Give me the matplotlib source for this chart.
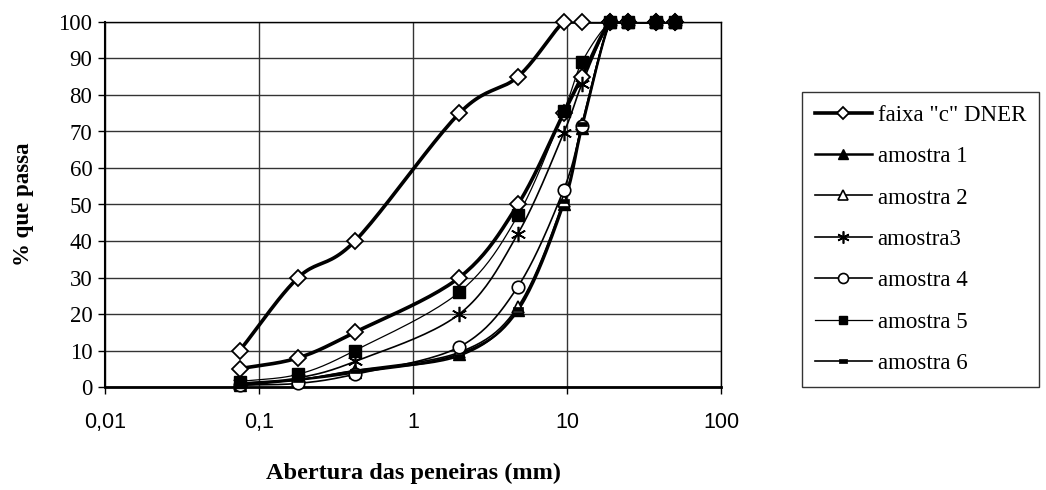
import numpy as np
import matplotlib
matplotlib.use("Agg")
import matplotlib.pyplot as plt
from matplotlib.lines import Line2D

# ---- data ----
sieves = [0.075, 0.18, 0.42, 2.0, 4.8, 9.5, 12.5, 19, 25, 38, 50]
faixa_sup = [10, 30, 40, 75, 85, 100, 100, 100, 100, 100, 100]
faixa_inf = [5, 8, 15, 30, 50, 75, 85, 100, 100, 100, 100]
amostra1 = [0.5, 2, 4, 9, 21, 50, 71, 100, 100, 100, 100]
amostra2 = [0.8, 2, 4.5, 9.5, 22, 51, 72, 100, 100, 100, 100]
amostra3 = [1, 2.5, 7, 20, 42, 69.5, 83, 100, 100, 100, 100]
amostra4 = [0.5, 1, 3.5, 11, 27.5, 54, 71.5, 100, 100, 100, 100]
amostra5 = [1.5, 3.5, 10, 26, 47, 75.5, 89, 100, 100, 100, 100]
amostra6 = [1, 2, 4.5, 8.5, 21.5, 51, 72, 100, 100, 100, 100]
xticks = [0.01, 0.1, 1, 10, 100]
xticklabels = ["0,01", "0,1", "1", "10", "100"]
yticks = list(range(0, 101, 10))

SERIF = "Liberation Serif"
SANS = "Liberation Sans"


def smooth(xs, ys, n=24):
    lx = np.log10(np.asarray(xs, float))
    y = np.asarray(ys, float)
    px = np.concatenate([[2 * lx[0] - lx[1]], lx, [2 * lx[-1] - lx[-2]]])
    py = np.concatenate([[2 * y[0] - y[1]], y, [2 * y[-1] - y[-2]]])
    outx, outy = [], []
    for i in range(1, len(px) - 2):
        p0, p1, p2, p3 = (np.array([px[j], py[j]]) for j in range(i - 1, i + 3))
        c1 = p1 + (p2 - p0) / 6
        c2 = p2 - (p3 - p1) / 6
        t = np.linspace(0, 1, n)[:, None]
        b = ((1 - t) ** 3) * p1 + 3 * ((1 - t) ** 2) * t * c1 + 3 * (1 - t) * t ** 2 * c2 + t ** 3 * p2
        outx.append(b[:, 0]); outy.append(b[:, 1])
    bx = np.concatenate(outx); by = np.clip(np.concatenate(outy), 0, 100)
    return 10 ** bx, by


fig = plt.figure(figsize=(10.46, 4.90), dpi=100)
ax = fig.add_axes([105 / 1046, 1 - 387 / 490, (721 - 105) / 1046, (387 - 22) / 490])

rect6 = [(-1, -0.45), (1, -0.45), (1, 0.45), (-1, 0.45), (-1, -0.45)]

series = [
    (faixa_sup, dict(lw=2.6, marker="D", ms=8, mfc="white", mec="black", mew=1.3)),
    (faixa_inf, dict(lw=2.6, marker="D", ms=8, mfc="white", mec="black", mew=1.3)),
    (amostra1, dict(lw=1.8, marker="^", ms=9, mfc="black", mec="black", mew=1)),
    (amostra2, dict(lw=1.2, marker="^", ms=9, mfc="white", mec="black", mew=1.2)),
    (amostra3, dict(lw=1.2, marker=(6, 2, 0), ms=11, mfc="black", mec="black", mew=1.2)),
    (amostra4, dict(lw=1.2, marker="o", ms=9, mfc="white", mec="black", mew=1.2)),
    (amostra5, dict(lw=0.9, marker="s", ms=8, mfc="black", mec="black", mew=1)),
    (amostra6, dict(lw=1.2, marker=rect6, ms=7, mfc="black", mec="black", mew=0.5)),
]

for ys, st in series:
    sx, sy = smooth(sieves, ys)
    ax.plot(sx, sy, color="black", lw=st["lw"], solid_capstyle="round", zorder=3)
    ax.plot(sieves, ys, ls="none", color="black", marker=st["marker"], ms=st["ms"],
            mfc=st["mfc"], mec=st["mec"], mew=st["mew"], zorder=4, clip_on=False)

ax.set_xscale("log")
ax.set_xlim(0.01, 100)
ax.set_ylim(0, 100)
ax.set_xticks(xticks)
ax.set_xticklabels(xticklabels, fontfamily=SANS, fontsize=15.5)
ax.minorticks_off()
ax.set_yticks(yticks)
ax.set_yticklabels([str(v) for v in yticks], fontfamily=SERIF, fontsize=16.5)
ax.tick_params(direction="out", length=5, width=1, colors="black", pad=4)
ax.tick_params(axis="x", pad=13)
ax.grid(True, which="major", color="#333333", lw=1)
for sp in ax.spines.values():
    sp.set_color("black"); sp.set_linewidth(1)
ax.spines["bottom"].set_linewidth(2)
ax.spines["left"].set_linewidth(1.5)

ax.set_xlabel("Abertura das peneiras (mm)", fontfamily=SERIF, fontweight="bold", fontsize=17.5)
ax.xaxis.set_label_coords(0.5, (387 - 473) / 365, transform=ax.transAxes)
ax.xaxis.label.set_va("center")
ax.set_ylabel("% que passa", fontfamily=SERIF, fontweight="bold", fontsize=16.5)
ax.yaxis.set_label_coords((23 - 105) / 616, 0.5, transform=ax.transAxes)
ax.yaxis.label.set_va("center")

labels = ['faixa "c" DNER', "amostra 1", "amostra 2", "amostra3", "amostra 4", "amostra 5", "amostra 6"]
handles = []
for (ys, st), lab in zip([series[0]] + series[2:], labels):
    handles.append(Line2D([], [], color="black", lw=st["lw"], marker=st["marker"],
                          ms=st["ms"] * 0.8, mfc=st["mfc"], mec=st["mec"], mew=st["mew"]))
leg = fig.legend(handles, labels, loc="upper left", bbox_to_anchor=(802 / 1046, 1 - 92 / 490),
                 prop={"family": SERIF, "size": 16.5}, frameon=True, fancybox=False,
                 edgecolor="black", handlelength=2.5, handletextpad=0.25, labelspacing=0.89,
                 borderpad=0.55, borderaxespad=0)
leg.get_frame().set_linewidth(1)

fig.savefig("out.png", dpi=100)
